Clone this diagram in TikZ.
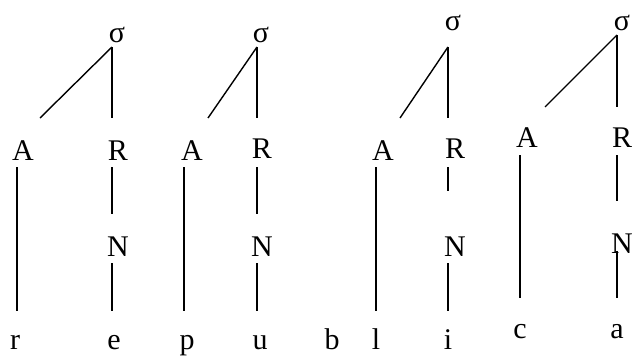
\documentclass[tikz,border=0pt]{standalone}
\usepackage{fontspec}
\setmainfont{Liberation Serif}
\begin{document}
\begin{tikzpicture}[x=1pt,y=-1pt,
  lbl/.style={anchor=base,inner sep=0pt,font=\fontsize{30}{33}\selectfont},
  branch/.style={line width=1.4pt}]
\useasboundingbox (0,0) rectangle (634,356);
% ---------- tree 1 ----------
\node[lbl] (s1) at (117,42) {σ};
\node[lbl] (a1) at (23,160) {A};
\node[lbl] (r1) at (118,160) {R};
\node[lbl] (n1) at (118,256) {N};
\node[lbl] (x1) at (15,349) {r};
\node[lbl] (x2) at (114,349) {e};
\coordinate (s1b) at (112,47);
\coordinate (a1t) at (40,118);
\coordinate (r1t) at (112,118);
\coordinate (a1b) at (17,167);
\coordinate (x1t) at (17,311);
\coordinate (r1b) at (112,167);
\coordinate (n1t) at (112,214);
\coordinate (n1b) at (112,263);
\coordinate (x2t) at (112,311);
\draw[branch] (s1b) -- (a1t);
\draw[branch] (s1b) -- (r1t);
\draw[branch] (a1b) -- (x1t);
\draw[branch] (r1b) -- (n1t);
\draw[branch] (n1b) -- (x2t);
% ---------- tree 2 ----------
\node[lbl] (s2) at (261,42) {σ};
\node[lbl] (a2) at (192,160) {A};
\node[lbl] (r2) at (262,158) {R};
\node[lbl] (n2) at (262,256) {N};
\node[lbl] (x3) at (187,349) {p};
\node[lbl] (x4) at (260,349) {u};
\coordinate (s2b) at (257,47);
\coordinate (a2t) at (208,118);
\coordinate (r2t) at (257,118);
\coordinate (a2b) at (184,167);
\coordinate (x3t) at (184,311);
\coordinate (r2b) at (257,167);
\coordinate (n2t) at (257,214);
\coordinate (n2b) at (257,263);
\coordinate (x4t) at (257,311);
\draw[branch] (s2b) -- (a2t);
\draw[branch] (s2b) -- (r2t);
\draw[branch] (a2b) -- (x3t);
\draw[branch] (r2b) -- (n2t);
\draw[branch] (n2b) -- (x4t);
% ---------- tree 3 ----------
\node[lbl] (s3) at (453,30) {σ};
\node[lbl] (a3) at (383,160) {A};
\node[lbl] (r3) at (455,158) {R};
\node[lbl] (n3) at (455,256) {N};
\node[lbl] (x5) at (332,349) {b};
\node[lbl] (x6) at (376,349) {l};
\node[lbl] (x7) at (448,349) {i};
\coordinate (s3b) at (448,47);
\coordinate (a3t) at (400,118);
\coordinate (r3t) at (448,118);
\coordinate (a3b) at (376,167);
\coordinate (x6t) at (376,311);
\coordinate (r3b) at (448,167);
\coordinate (n3t) at (448,191);
\coordinate (n3b) at (448,263);
\coordinate (x7t) at (448,311);
\draw[branch] (s3b) -- (a3t);
\draw[branch] (s3b) -- (r3t);
\draw[branch] (a3b) -- (x6t);
\draw[branch] (r3b) -- (n3t);
\draw[branch] (n3b) -- (x7t);
% ---------- tree 4 ----------
\node[lbl] (s4) at (622,30) {σ};
\node[lbl] (a4) at (527,147) {A};
\node[lbl] (r4) at (622,147) {R};
\node[lbl] (n4) at (622,253) {N};
\node[lbl] (x8) at (520,338) {c};
\node[lbl] (x9) at (617,338) {a};
\coordinate (s4b) at (617,35);
\coordinate (a4t) at (545,107);
\coordinate (r4t) at (617,107);
\coordinate (a4b) at (520,155);
\coordinate (x8t) at (520,298);
\coordinate (r4b) at (617,155);
\coordinate (n4t) at (617,201);
\coordinate (n4b) at (617,251);
\coordinate (x9t) at (617,298);
\draw[branch] (s4b) -- (a4t);
\draw[branch] (s4b) -- (r4t);
\draw[branch] (a4b) -- (x8t);
\draw[branch] (r4b) -- (n4t);
\draw[branch] (n4b) -- (x9t);
\end{tikzpicture}
\end{document}
